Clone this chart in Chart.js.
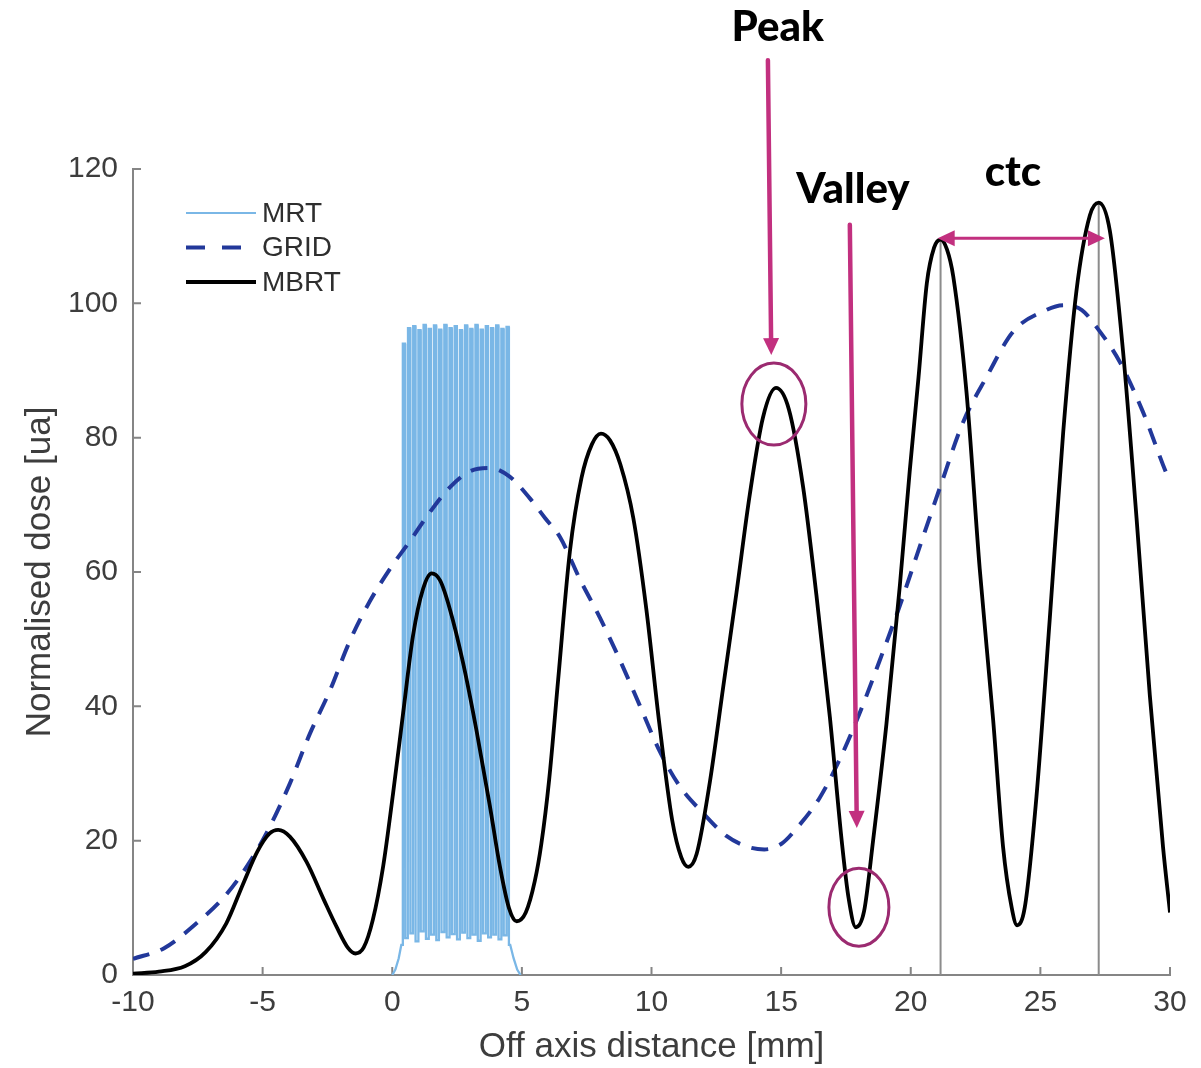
<!DOCTYPE html>
<html>
<head>
<meta charset="utf-8">
<script src="https://cdn.jsdelivr.net/npm/chart.js@4.4.1/dist/chart.umd.min.js"></script>
<style>
  html, body { margin: 0; padding: 0; background: #fff; }
  #wrap { width: 1201px; height: 1068px; }
</style>
</head>
<body>
<div id="wrap"><canvas id="doseChart" width="1201" height="1068"></canvas></div>
<script>
// axis ticks
const xTickValues = [-10, -5, 0, 5, 10, 15, 20, 25, 30];
const yTickValues = [0, 20, 40, 60, 80, 100, 120];

// MBRT profile (mm, normalised dose)
const mbrtX = [-10, -9, -8, -7.2, -6.4, -5.75, -5.2, -4.75, -4.4, -3.95, -3.3, -2.65, -2.15, -1.7, -1.42, -1.1,
  -0.75, -0.35, 0.03, 0.42, 0.8, 1.19, 1.52, 1.85, 2.22, 2.73, 3.25, 3.76, 4.15, 4.5, 4.8, 5.15, 5.5, 5.75,
  6.05, 6.4, 6.85, 7.3, 7.7, 8.05, 8.4, 8.8, 9.3, 9.8, 10.3, 10.8, 11.15, 11.42, 11.74, 12.25, 12.77, 13.28,
  13.79, 14.3, 14.8, 15.3, 15.85, 16.36, 16.88, 17.35, 17.6, 17.88, 18.2, 18.55, 19.06, 19.58, 19.96, 20.3,
  20.62, 20.9, 21.15, 21.4, 21.64, 22.15, 22.66, 23.18, 23.56, 23.89, 24.1, 24.4, 24.85, 25.36, 25.88, 26.39,
  26.91, 27.25, 27.68, 28.19, 28.71, 29.22, 29.73, 30];
const mbrtY = [0.2, 0.5, 1.3, 3.4, 7.7, 13.6, 18.4, 21.0, 21.6, 20.6, 16.8, 11.3, 7.2, 4.0, 3.2, 4.1,
  8.2, 16.2, 27, 39, 50.5, 57.5, 59.8, 58.7, 54.5, 46.5, 36.4, 25.3, 16.2, 10.0, 8.0, 9.3, 14.0, 19.5,
  29, 44, 63, 74, 79, 80.6, 79.6, 76, 68, 54.5, 37.5, 23, 17.5, 16.1, 18, 28.7, 43, 57,
  71.5, 83, 87.4, 84.2, 72.6, 56.6, 38.4, 19.5, 11.5, 7.1, 9.5, 20.1, 37.3, 58, 75, 89,
  103, 108.3, 109.5, 108, 104, 86.8, 60.5, 37.9, 19.1, 10.1, 7.4, 10.1, 26.6, 52.9, 80.8, 101.8,
  113.1, 115.0, 110.8, 92.8, 68.0, 41.7, 19.1, 9.3];

// GRID profile
const gridX = [-10, -8.8, -7.55, -6.4, -5.5, -4.72, -3.95, -3.18, -2.41, -1.64, -0.87, -0.1, 0.68, 1.45, 2.22,
  3.0, 3.76, 4.53, 5.3, 5.9, 6.47, 7.24, 8.01, 8.78, 9.55, 10.32, 11.09, 11.99, 12.89, 13.7, 14.35, 15.0,
  15.59, 16.49, 17.26, 18.03, 18.81, 19.58, 20.35, 21.12, 22.02, 22.92, 23.95, 25.11, 25.9, 26.6, 27.16,
  28.06, 28.96, 29.86, 30];
const gridY = [2.4, 4.0, 7.7, 12.0, 16.8, 22.1, 28.5, 35.9, 42.3, 49.7, 55.6, 60.4, 64.6, 68.9, 72.6,
  75.0, 75.5, 74.2, 71.0, 68.0, 65.2, 58.9, 53.2, 46.9, 40.1, 33.3, 28.1, 24.1, 20.7, 19.1, 18.7, 19.5,
  21.8, 26.4, 32.1, 39.0, 46.9, 55.0, 63.8, 72.5, 82.3, 89.0, 95.8, 98.8, 99.7, 99.0, 96.5,
  91.3, 83.8, 74.7, 73.5];

// MRT: penumbra tails, microbeam centres, peak dose and valley dose between beams
const mrtTailInX = [0, 0.12, 0.25, 0.35];
const mrtTailInY = [0, 0.8, 2.5, 4.5];
const mrtBeamX = [0.45, 0.65, 0.85, 1.05, 1.25, 1.45, 1.65, 1.85, 2.05, 2.25, 2.45, 2.65, 2.85, 3.05, 3.25,
  3.45, 3.65, 3.85, 4.05, 4.25, 4.45];
const mrtBeamPeak = [94.0, 96.3, 96.6, 96.0, 96.8, 96.2, 96.7, 96.1, 96.8, 96.3, 96.6, 96.0, 96.7, 96.2, 96.8,
  96.1, 96.6, 96.3, 96.7, 96.2, 96.5];
const mrtValley = [5.5, 6.2, 5.0, 6.5, 5.4, 6.0, 5.2, 6.4, 5.6, 6.1, 5.3, 6.3, 5.5, 6.0, 5.1, 6.2, 5.6, 6.0,
  5.3, 5.9];
const mrtTailOutX = [4.55, 4.68, 4.82, 4.95];
const mrtTailOutY = [4.5, 2.5, 0.8, 0];

// ctc markers: peak positions and their dose
const ctcX = [21.15, 27.25];
const ctcDose = [109.5, 115.0];

const FONT = "'Liberation Sans', Arial, sans-serif";
const AXIS_GREY = "#858585";
const TEXT_GREY = "#3d3d3d";
const MAGENTA = "#c2307f";
const PLUM = "#9b2a70";
const BEAM_HALF = 0.05; // half width of a microbeam in mm

const pts = (xs, ys) => xs.map((x, i) => ({ x: x, y: ys[i] }));

function mrtPoints() {
    const out = pts(mrtTailInX, mrtTailInY);
    mrtBeamX.forEach((c, i) => {
        const before = i === 0 ? mrtTailInY[mrtTailInY.length - 1] : mrtValley[i - 1];
        const after = i === mrtBeamX.length - 1 ? mrtTailOutY[0] : mrtValley[i];
        out.push({ x: c - BEAM_HALF, y: before });
        out.push({ x: c - BEAM_HALF + 0.008, y: mrtBeamPeak[i] });
        out.push({ x: c + BEAM_HALF - 0.008, y: mrtBeamPeak[i] });
        out.push({ x: c + BEAM_HALF, y: after });
    });
    return out.concat(pts(mrtTailOutX, mrtTailOutY));
}

// MATLAB style inward tick marks
const inwardTicks = {
    id: "inwardTicks",
    beforeDatasetsDraw(chart) {
        const { ctx, chartArea: a, scales } = chart;
        ctx.save();
        ctx.strokeStyle = AXIS_GREY;
        ctx.lineWidth = 2;
        ctx.beginPath();
        xTickValues.forEach(v => {
            const px = scales.x.getPixelForValue(v);
            ctx.moveTo(px, a.bottom);
            ctx.lineTo(px, a.bottom - 8);
        });
        yTickValues.forEach(v => {
            const py = scales.y.getPixelForValue(v);
            ctx.moveTo(a.left, py);
            ctx.lineTo(a.left + 8, py);
        });
        ctx.stroke();

        // thin vertical lines marking the two ctc peaks
        ctx.strokeStyle = "#8c8c8c";
        ctx.beginPath();
        ctcX.forEach((x, i) => {
            const px = scales.x.getPixelForValue(x);
            ctx.moveTo(px, scales.y.getPixelForValue(ctcDose[i]));
            ctx.lineTo(px, scales.y.getPixelForValue(0));
        });
        ctx.stroke();
        ctx.restore();
    }
};

const lineLegend = {
    id: "lineLegend",
    afterDraw(chart) {
        const { ctx, chartArea: a } = chart;
        const dashes = { GRID: [19, 17] };
        chart.data.datasets.forEach((ds, i) => {
            const y = a.top + 44 + i * 34.5;
            ctx.save();
            ctx.strokeStyle = ds.borderColor;
            ctx.lineWidth = ds.label === "MRT" ? 2 : ds.borderWidth;
            ctx.setLineDash(dashes[ds.label] || []);
            ctx.beginPath();
            ctx.moveTo(a.left + 53, y);
            ctx.lineTo(a.left + 123, y);
            ctx.stroke();
            ctx.setLineDash([]);
            ctx.fillStyle = "#2e2e2e";
            ctx.font = "28px " + FONT;
            ctx.textBaseline = "middle";
            ctx.fillText(ds.label, a.left + 129, y + 1);
            ctx.restore();
        });
    }
};

function arrowHead(ctx, x0, y0, x1, y1, len, half) {
    const ang = Math.atan2(y1 - y0, x1 - x0);
    ctx.beginPath();
    ctx.moveTo(x1, y1);
    ctx.lineTo(x1 - len * Math.cos(ang) + half * Math.sin(ang), y1 - len * Math.sin(ang) - half * Math.cos(ang));
    ctx.lineTo(x1 - len * Math.cos(ang) - half * Math.sin(ang), y1 - len * Math.sin(ang) + half * Math.cos(ang));
    ctx.closePath();
    ctx.fill();
}

function arrow(ctx, x0, y0, x1, y1, width, both) {
    const len = 17, half = 8;
    const ang = Math.atan2(y1 - y0, x1 - x0);
    ctx.lineWidth = width;
    ctx.lineCap = "round";
    ctx.beginPath();
    ctx.moveTo(both ? x0 + (len - 2) * Math.cos(ang) : x0, both ? y0 + (len - 2) * Math.sin(ang) : y0);
    ctx.lineTo(x1 - (len - 2) * Math.cos(ang), y1 - (len - 2) * Math.sin(ang));
    ctx.stroke();
    arrowHead(ctx, x0, y0, x1, y1, len, half);
    if (both) arrowHead(ctx, x1, y1, x0, y0, len, half);
}

// Peak / Valley / ctc annotations, placed in data units
const notes = [
    { text: "Peak", at: [14.87, 141.1], from: [14.49, 136.2], to: [14.62, 92.3], ring: [14.72, 85.0], rx: 32, ry: 41 },
    { text: "Valley", at: [17.77, 116.9], from: [17.65, 111.7], to: [17.92, 21.9], ring: [18.0, 10.1], rx: 30, ry: 39 },
    { text: "ctc", at: [23.94, 119.5], from: [21.04, 109.7], to: [27.49, 109.7], both: true }
];

const annotate = {
    id: "annotate",
    afterDraw(chart) {
        const { ctx, scales } = chart;
        const px = p => [scales.x.getPixelForValue(p[0]), scales.y.getPixelForValue(p[1])];
        ctx.save();
        notes.forEach(n => {
            if (n.ring) {
                const c = px(n.ring);
                ctx.strokeStyle = PLUM;
                ctx.lineWidth = 3;
                ctx.beginPath();
                ctx.ellipse(c[0], c[1], n.rx, n.ry, 0, 0, Math.PI * 2);
                ctx.stroke();
            }
            const f = px(n.from), t = px(n.to);
            ctx.strokeStyle = MAGENTA;
            ctx.fillStyle = MAGENTA;
            arrow(ctx, f[0], f[1], t[0], t[1], n.both ? 3 : 4.5, n.both);
            const l = px(n.at);
            ctx.fillStyle = "#000";
            ctx.font = "900 42px Lato";
            ctx.textAlign = "center";
            ctx.textBaseline = "middle";
            ctx.fillText(n.text, l[0], l[1]);
        });
        ctx.restore();
    }
};

new Chart(document.getElementById("doseChart"), {
    type: "line",
    data: {
        datasets: [
            {
                label: "MRT",
                data: mrtPoints(),
                borderColor: "#7ab7e6",
                borderWidth: 2.3,
                tension: 0,
                order: 3
            },
            {
                label: "GRID",
                data: pts(gridX, gridY),
                borderColor: "#22389a",
                borderWidth: 4,
                borderDash: [17, 12],
                cubicInterpolationMode: "monotone",
                order: 2
            },
            {
                label: "MBRT",
                data: pts(mbrtX, mbrtY),
                borderColor: "#000000",
                borderWidth: 3.8,
                cubicInterpolationMode: "monotone",
                order: 1
            }
        ]
    },
    options: {
        responsive: false,
        animation: false,
        devicePixelRatio: 1,
        events: [],
        elements: { point: { radius: 0 } },
        layout: { padding: { top: 169, right: 31, left: 0, bottom: 0 } },
        plugins: { legend: { display: false }, tooltip: { enabled: false } },
        scales: {
            x: {
                type: "linear",
                min: -10,
                max: 30,
                afterFit: s => { s.height = 93; },
                afterBuildTicks: s => { s.ticks = xTickValues.map(v => ({ value: v })); },
                grid: { display: true, drawOnChartArea: false, drawTicks: false },
                border: { display: true, color: AXIS_GREY, width: 2 },
                ticks: { color: TEXT_GREY, font: { family: FONT, size: 30 }, padding: 10, maxRotation: 0, autoSkip: false },
                title: { display: true, text: "Off axis distance [mm]", color: TEXT_GREY,
                    font: { family: FONT, size: 35 }, padding: { top: 0, bottom: 0 } }
            },
            y: {
                type: "linear",
                min: 0,
                max: 120,
                afterFit: s => { s.width = 133; },
                afterBuildTicks: s => { s.ticks = yTickValues.map(v => ({ value: v })); },
                grid: { display: true, drawOnChartArea: false, drawTicks: false },
                border: { display: true, color: AXIS_GREY, width: 2 },
                ticks: { color: TEXT_GREY, font: { family: FONT, size: 30 }, padding: 15, autoSkip: false },
                title: { display: true, text: "Normalised dose [ua]", color: TEXT_GREY,
                    font: { family: FONT, size: 35 }, padding: { top: 19, bottom: 0 } }
            }
        }
    },
    plugins: [inwardTicks, lineLegend, annotate]
});
</script>
</body>
</html>
